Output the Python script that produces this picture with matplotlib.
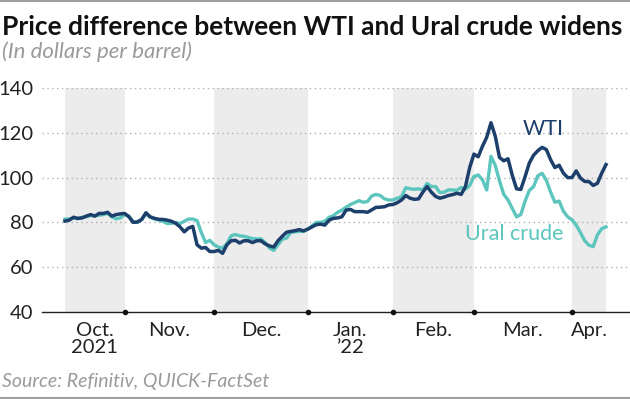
import matplotlib
matplotlib.use("Agg")
import matplotlib.pyplot as plt
import numpy as np
import pandas as pd
from matplotlib.lines import Line2D

# ---------------- data ----------------
start_date = "2021-10-12"
end_date = "2022-04-13"
market_holidays = ["2021-11-25", "2021-12-24", "2022-01-17", "2022-02-21"]

wti = [80.6, 81.0, 82.3, 81.8, 82.0, 82.8, 83.5, 82.8, 84.0, 84.0,
       84.5, 82.8, 83.5, 83.8, 84.0, 82.5, 80.0, 80.2, 81.3, 84.3,
       82.5, 81.8, 81.4, 81.3, 81.0, 80.5, 79.6, 78.0, 75.8, 77.5,
       78.2, 70.0, 68.5, 68.8, 67.0, 67.0, 67.5, 66.2, 70.0, 71.8,
       72.0, 70.8, 71.8, 71.8, 71.0, 71.8, 71.8, 70.4, 69.5, 69.0,
       71.8, 73.8, 75.6, 76.0, 76.3, 76.8, 76.2, 77.0, 78.0, 79.0,
       79.2, 78.8, 81.0, 81.8, 82.0, 82.5, 85.5, 85.8, 84.8, 84.8,
       84.8, 84.5, 85.6, 86.7, 86.8, 87.0, 87.8, 88.0, 88.8, 90.0,
       92.0, 90.8, 90.3, 90.5, 93.5, 96.0, 93.5, 91.6, 90.8, 91.3,
       92.0, 92.4, 93.0, 92.5, 96.0, 104.5, 110.5, 109.3, 114.0, 118.0,
       124.5, 118.5, 109.0, 107.5, 108.4, 101.0, 95.0, 94.7, 100.4, 106.5,
       110.0, 112.0, 113.5, 112.5, 108.0, 104.5, 105.5, 102.0, 100.0, 100.0,
       103.0, 99.8, 98.3, 98.2, 96.5, 97.5, 102.0, 105.8]

ural = [81.5, 81.5, 82.0, 81.6, 82.3, 82.5, 83.0, 83.0, 83.2, 83.5,
        84.0, 82.5, 81.6, 82.0, 83.5, 82.8, 80.3, 80.0, 81.3, 83.8,
        82.3, 81.5, 81.0, 80.5, 79.5, 79.6, 80.0, 79.5, 80.5, 81.5,
        81.5, 80.8, 75.5, 71.0, 72.0, 70.0, 69.0, 68.5, 70.5, 74.0,
        74.6, 74.0, 73.8, 73.3, 72.8, 72.6, 72.7, 71.0, 68.5, 67.5,
        70.0, 72.5, 73.0, 75.5, 75.8, 76.0, 76.0, 77.0, 78.5, 80.0,
        80.0, 80.5, 82.3, 83.0, 84.5, 85.5, 86.8, 88.0, 88.8, 89.7,
        89.0, 89.3, 91.8, 92.5, 92.0, 90.5, 90.0, 90.0, 90.8, 91.5,
        95.5, 95.0, 94.8, 95.0, 94.5, 97.4, 96.0, 96.0, 93.3, 93.5,
        94.5, 94.5, 94.3, 95.6, 94.8, 96.5, 100.5, 101.2, 99.0, 94.5,
        109.5, 105.5, 98.5, 92.5, 90.0, 86.2, 82.5, 83.5, 89.5, 94.3,
        96.0, 100.8, 101.9, 98.8, 93.5, 89.0, 89.5, 85.0, 82.5, 81.2,
        78.8, 75.5, 71.8, 69.8, 69.2, 74.5, 77.2, 78.0]

month_labels = ["Oct.\n2021", "Nov.", "Dec.", "Jan.\n\u201922", "Feb.", "Mar.", "Apr."]
y_ticks = [40, 60, 80, 100, 120, 140]

title = "Price difference between WTI and Ural crude widens"
subtitle = "(In dollars per barrel)"
source = "Source: Refinitiv, QUICK-FactSet"

# ---------------- styling ----------------
WTI_COLOR = "#1d3f6c"
URAL_COLOR = "#5cc5bd"
SHADE = "#ececec"
GRID = "#b0b0b0"
GREY_TEXT = "#9a9a9a"

plt.rcParams["font.family"] = ["Lato", "DejaVu Sans"]

dates = pd.bdate_range(start_date, end_date, freq="C", holidays=market_holidays)
n = len(dates)
x = np.arange(n)

months = dates.to_period("M")
starts = [0] + [i for i in range(1, n) if months[i] != months[i - 1]]
ends = starts[1:] + [n - 1]

fig = plt.figure(figsize=(6.3, 3.99), dpi=100)
ax = fig.add_axes([42 / 630, 87 / 399, 588 / 630, 224 / 399])

px_per_day = 4.26
ax.set_xlim(-23 / px_per_day, (n - 1) + 24 / px_per_day)
ax.set_ylim(40, 140)

# shaded months
for k, (s, e) in enumerate(zip(starts, ends)):
    if k % 2 == 0:
        ax.axvspan(s, e, color=SHADE, lw=0, zorder=0)

# grid
for yv in y_ticks[1:]:
    ax.axhline(yv, color=GRID, lw=1.0, ls=(0, (1, 2.5)), zorder=1)
ax.axhline(40, color="#222222", lw=1.0, zorder=3, clip_on=False)

ax.plot(x, ural, color=URAL_COLOR, lw=2.4, zorder=4, solid_joinstyle="round")
ax.plot(x, wti, color=WTI_COLOR, lw=2.5, zorder=5, solid_joinstyle="round")

# month boundary dots
ax.plot(starts[1:], [40] * len(starts[1:]), "o", color="#111111", ms=3,
        zorder=6, clip_on=False)

for sp in ax.spines.values():
    sp.set_visible(False)

ax.set_yticks(y_ticks)
ax.set_yticklabels([str(v) for v in y_ticks])
ax.tick_params(axis="y", length=0, pad=6, labelsize=14.5, labelcolor="#222222")

mids = [(s + e) / 2 for s, e in zip(starts, ends)]
ax.set_xticks(mids)
ax.set_xticklabels(month_labels, linespacing=1.05)
ax.tick_params(axis="x", length=0, pad=7, labelsize=14.5, labelcolor="#222222")

ax.text(112.2, 121.7, "WTI", color=WTI_COLOR, fontsize=15.5,
        ha="center", va="center", zorder=7)
ax.text(105.4, 74.8, "Ural crude", color=URAL_COLOR, fontsize=15.5,
        ha="center", va="center", zorder=7)

fig.text(2 / 630, 1 - 27 / 399, title, fontsize=19, fontweight="bold",
         color="#111111", ha="left", va="center")
fig.text(2 / 630, 1 - 52 / 399, subtitle, fontsize=16, style="italic",
         color=GREY_TEXT, ha="left", va="center")
fig.text(2 / 630, 1 - 381 / 399, source, fontsize=14, style="italic",
         color=GREY_TEXT, ha="left", va="center")

fig.add_artist(Line2D([0, 1], [1 - 1 / 399, 1 - 1 / 399], color="#a0a0a0", lw=1.5,
                      transform=fig.transFigure))
fig.add_artist(Line2D([0, 1], [1.5 / 399, 1.5 / 399], color="#a0a0a0", lw=1.5,
                      transform=fig.transFigure))

fig.savefig("out.png", dpi=100)
